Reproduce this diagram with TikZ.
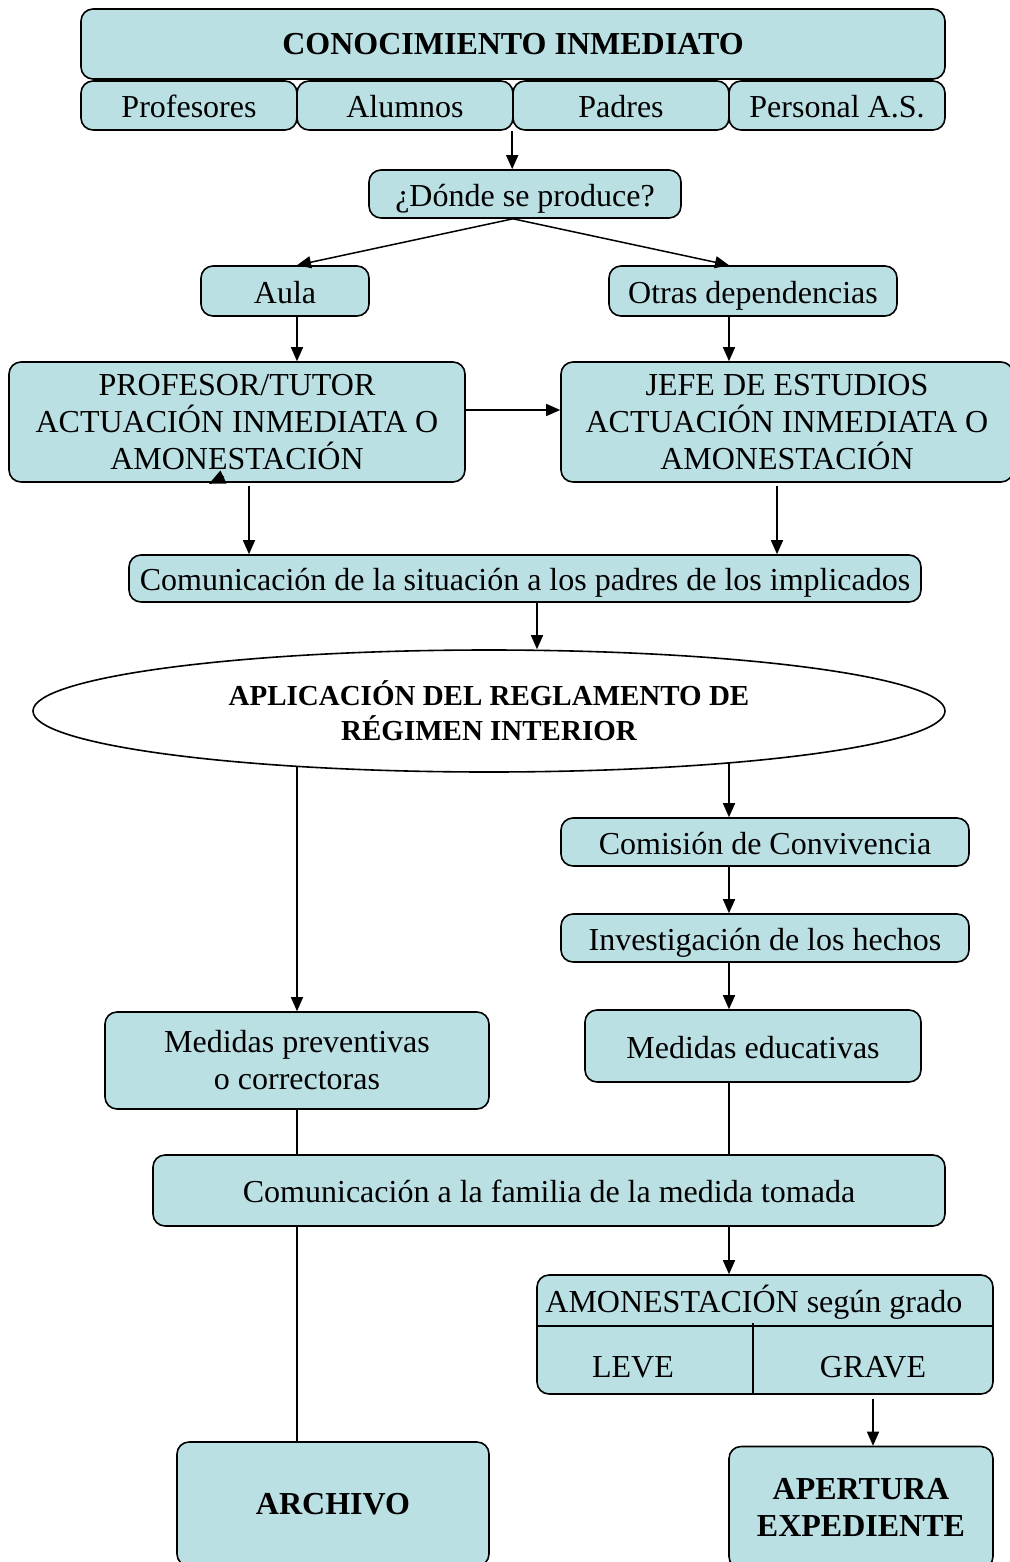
\documentclass[tikz,border=0pt]{standalone}
\usepackage{fontspec}
\setmainfont{Liberation Serif}
\usetikzlibrary{arrows.meta,shapes.geometric}
\definecolor{celeste}{RGB}{187,224,228}

\begin{document}
\begin{tikzpicture}[x=0.5pt, y=-0.5pt,
  caja/.style={draw, fill=celeste, rounded corners=6pt, line width=0.8pt,
    align=center, inner sep=0pt, font=\fontsize{16}{18.5}\selectfont},
  linea1/.style={text height=12pt, text depth=0pt},
  negrita/.style={font=\fontsize{16}{18.5}\selectfont\bfseries},
  flecha/.style={line width=0.75pt, -{Triangle[length=7pt,width=6pt]}},
  linea/.style={line width=0.75pt}]

\useasboundingbox (0,0) rectangle (1009,1562);

% columnas de los conectores
\coordinate (xa) at (297,0);
\coordinate (xb) at (729,0);
\coordinate (xc) at (249,0);
\coordinate (xd) at (777,0);
\coordinate (xe) at (537,0);
\coordinate (xf) at (753,1323);

\node[caja, negrita, minimum width=432pt, minimum height=35pt] (conoc) at (513,44) {CONOCIMIENTO INMEDIATO};
\node[caja, linea1, minimum width=108pt, minimum height=24.5pt] (profes) at (189,105.5) {Profesores};
\node[caja, linea1, minimum width=108pt, minimum height=24.5pt] (alumnos) at (405,105.5) {Alumnos};
\node[caja, linea1, minimum width=108pt, minimum height=24.5pt] (padres) at (621,105.5) {Padres};
\node[caja, linea1, minimum width=108pt, minimum height=24.5pt] (personal) at (837,105.5) {Personal A.S.};

\node[caja, linea1, minimum width=156pt, minimum height=24pt] (donde) at (525,194) {¿Dónde se produce?};
\node[caja, linea1, minimum width=84pt, minimum height=25pt] (aula) at (285,291) {Aula};
\node[caja, linea1, minimum width=144pt, minimum height=25pt] (otras) at (753,291) {Otras dependencias};

\node[caja, minimum width=228pt, minimum height=60pt] (profe) at (237,422)
  {PROFESOR/TUTOR\\ACTUACIÓN INMEDIATA O\\AMONESTACIÓN};
\node[caja, minimum width=226pt, minimum height=60pt] (jefe) at (787,422)
  {JEFE DE ESTUDIOS\\ACTUACIÓN INMEDIATA O\\AMONESTACIÓN};

\node[caja, linea1, minimum width=396pt, minimum height=23.5pt] (comsit) at (525,578.5)
  {Comunicación de la situación a los padres de los implicados};

\node[draw, ellipse, line width=0.8pt, minimum width=456pt, minimum height=61pt,
  inner sep=0pt, align=center, font=\fontsize{14.5}{17.5}\selectfont\bfseries] (regla) at (489,711)
  {APLICACIÓN DEL REGLAMENTO DE\\RÉGIMEN INTERIOR};

\node[caja, linea1, minimum width=204pt, minimum height=24pt] (comis) at (765,842) {Comisión de Convivencia};
\node[caja, linea1, minimum width=204pt, minimum height=24pt] (invest) at (765,938) {Investigación de los hechos};
\node[caja, linea1, minimum width=168pt, minimum height=36pt] (educ) at (753,1046) {Medidas educativas};
\node[caja, minimum width=192pt, minimum height=48.5pt] (prevent) at (297,1060.5)
  {Medidas preventivas\\o correctoras};

\node[caja, linea1, minimum width=396pt, minimum height=35.5pt] (comfam) at (549,1190.5)
  {Comunicación a la familia de la medida tomada};

\node[caja, minimum width=228pt, minimum height=59.5pt] (amon) at (765,1334.5) {};
\node[anchor=west, inner sep=0pt, font=\fontsize{16}{18.5}\selectfont] (amontit) at (545,1302)
  {AMONESTACIÓN según grado};
\node[inner sep=0pt, font=\fontsize{16}{18.5}\selectfont] (leve) at (633,1367) {LEVE};
\node[inner sep=0pt, font=\fontsize{16}{18.5}\selectfont] (grave) at (873,1367) {GRAVE};
\draw[linea] ([yshift=4.25pt]amon.west) -- ([yshift=4.25pt]amon.east);
\draw[linea] (xf) -- (amon.south -| xf);

\node[caja, negrita, minimum width=156pt, minimum height=62pt] (archivo) at (333,1504) {ARCHIVO};
\node[caja, negrita, minimum width=132pt, minimum height=61pt] (apert) at (861,1507.5)
  {APERTURA\\EXPEDIENTE};

% conectores
\draw[flecha] (padres.south west) -- (donde.north -| padres.south west);
\draw[flecha] (donde.south -| conoc.south) -- (aula.north -| xa);
\draw[flecha] (donde.south -| conoc.south) -- (otras.north -| xb);
\draw[flecha] (aula.south -| xa) -- (profe.north -| xa);
\draw[flecha] (otras.south -| xb) -- (jefe.north -| xb);
\draw[flecha] ([yshift=6pt]profe.east) -- ([yshift=6pt]jefe.west);
\draw[line width=0.75pt, -{Triangle[length=8pt,width=7pt]}]
  ([xshift=-6.5pt,yshift=3pt]profe.south) -- ([xshift=-14pt,yshift=-0.5pt]profe.south);
\draw[flecha, shorten <=1.5pt] (profe.south -| xc) -- (comsit.north -| xc);
\draw[flecha, shorten <=1.5pt] (jefe.south -| xd) -- (comsit.north -| xd);
\draw[flecha] (comsit.south -| xe) -- (regla.north -| xe);

\draw[flecha] (regla.196 -| xa) -- (prevent.north -| xa);
\draw[flecha] (regla.348 -| xb) -- (comis.north -| xb);
\draw[flecha] (comis.south -| xb) -- (invest.north -| xb);
\draw[flecha] (invest.south -| xb) -- (educ.north -| xb);

\draw[linea] (prevent.south) -- (comfam.north -| prevent.south);
\draw[linea] (educ.south -| xb) -- (comfam.north -| xb);
\draw[linea] (comfam.south -| xa) -- (archivo.north -| xa);
\draw[flecha] (comfam.south -| xb) -- (amon.north -| xb);
\draw[flecha, shorten <=2pt] (amon.south -| grave) -- (apert.north -| grave);

\end{tikzpicture}
\end{document}
